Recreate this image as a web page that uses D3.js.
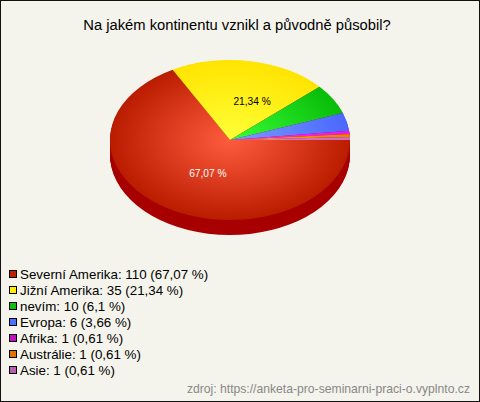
<!DOCTYPE html>
<html><head><meta charset="utf-8">
<script src="https://cdn.jsdelivr.net/npm/d3@7"></script>
<style>html,body{margin:0;padding:0;background:#fff}svg{display:block}text{font-family:"Liberation Sans",Arial,sans-serif}</style>
</head><body><div id="c"></div>
<script>
const categories=["Severní Amerika","Jižní Amerika","nevím","Evropa","Afrika","Austrálie","Asie"];
const counts=[110,35,10,6,1,1,1];
const percents=["67,07","21,34","6,1","3,66","0,61","0,61","0,61"];
const innerColors=["#ff5c3e","#ffff38","#38ff38","#7a9cff","#ff30ff","#ffa030","#e080d0"];
const outerColors=["#ba1c00","#ffe400","#08bc08","#4a68ff","#e818e8","#ee8000","#cc6cbc"];
const swatches=["#c02000","#ffee00","#10c010","#4d70ff","#c010c0","#e87000","#b860b0"];
const sideColor="#a80000";
const W=480,H=402,cx=230,cy=140,rx=120,ry=80,depth=15;
const svg=d3.select("#c").append("svg").attr("width",W).attr("height",H);
svg.append("rect").attr("width",W).attr("height",H).attr("fill","#f4f4ec");
svg.append("rect").attr("x",0.5).attr("y",0.5).attr("width",W-1).attr("height",H-1).attr("fill","none").attr("stroke","#111");
svg.append("text").attr("x",237).attr("y",30).attr("text-anchor","middle").attr("font-size",14.75).attr("fill","#000").text("Na jakém kontinentu vznikl a původně působil?");
const pie=d3.pie().sort(null).startAngle(Math.PI/2).endAngle(Math.PI/2+2*Math.PI);
const arcs=pie(counts);
const arc=d3.arc().innerRadius(0).outerRadius(rx);
const defs=svg.append("defs");
categories.forEach((c,i)=>{
  const g=defs.append("radialGradient").attr("id","g"+i).attr("gradientUnits","userSpaceOnUse").attr("cx",0).attr("cy",0).attr("r",rx);
  g.append("stop").attr("offset",0).attr("stop-color",innerColors[i]);
  g.append("stop").attr("offset",1).attr("stop-color",outerColors[i]);
});
const scaleY=ry/rx;
d3.range(depth,0,-1).forEach(d=>{
  svg.append("g").attr("transform",`translate(${cx},${cy+d}) scale(1,${scaleY})`)
    .selectAll("path").data(arcs).join("path").attr("d",arc).attr("fill",sideColor);
});
svg.append("g").attr("transform",`translate(${cx},${cy}) scale(1,${scaleY})`)
  .selectAll("path").data(arcs).join("path").attr("d",arc).attr("fill",(d,i)=>`url(#g${i})`);
arcs.forEach((a,i)=>{
  if(counts[i]<20)return;
  const m=(a.startAngle+a.endAngle)/2;
  svg.append("text").attr("x",cx+11+Math.sin(m)*rx*0.54).attr("y",cy+3.5-Math.cos(m)*ry*0.488)
    .attr("text-anchor","middle").attr("font-size",10.2).attr("fill",i===0?"#fff":"#000").text(percents[i]+" %");
});
const yL=d3.scalePoint().domain(categories).range([274,370]);
const lg=svg.append("g").selectAll("g").data(categories).join("g").attr("transform",d=>`translate(0,${yL(d)})`);
lg.append("rect").attr("x",9.5).attr("y",-3.5).attr("width",7).attr("height",7).attr("fill",(d,i)=>swatches[i]).attr("stroke","#000");
lg.append("text").attr("x",20).attr("y",4.5).attr("font-size",13.35).attr("fill","#000").text((d,i)=>`${d}: ${counts[i]} (${percents[i]} %)`);
svg.append("text").attr("x",470).attr("y",393).attr("text-anchor","end").attr("font-size",12.17).attr("fill","#888").text("zdroj: https://anketa-pro-seminarni-praci-o.vyplnto.cz");
</script></body></html>
